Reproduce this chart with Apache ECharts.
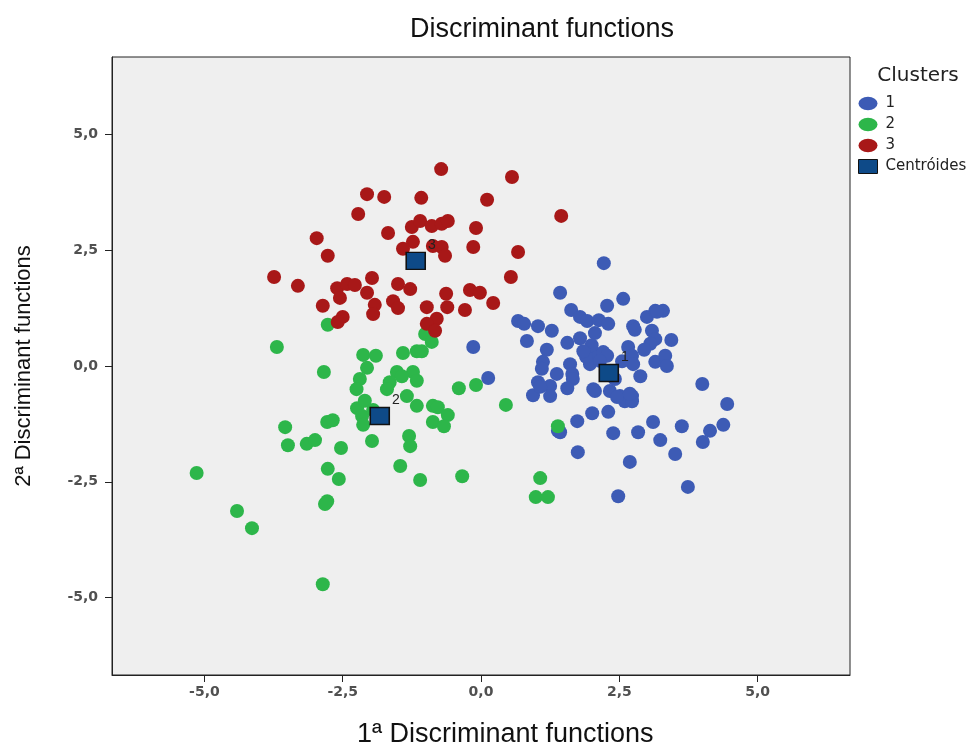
<!DOCTYPE html>
<html>
<head>
<meta charset="utf-8">
<script src="https://cdn.jsdelivr.net/npm/echarts@6/dist/echarts.min.js"></script>
<style>
html,body{margin:0;padding:0;background:#fff;}
#chart{width:971px;height:749px;}
</style>
</head>
<body>
<div id="chart"></div>
<script>
var chartTitle = 'Discriminant functions';
var xAxisName = '1ª Discriminant functions';
var yAxisName = '2ª Discriminant functions';
var legendTitle = 'Clusters';
var seriesNames = ['1', '2', '3', 'Centróides'];
var tickValues = [-5, -2.5, 0, 2.5, 5];
var axisMin = -6.67, axisMax = 6.67;

var cluster1 = [
[2.22,2.22],[1.43,1.58],[2.57,1.45],[2.28,1.30],[1.63,1.21],[1.79,1.06],[1.92,0.97],[2.13,0.99],[2.30,0.91],
[0.67,0.97],[0.78,0.91],[1.03,0.86],[1.28,0.76],[0.83,0.54],[1.56,0.50],[1.79,0.60],[2.06,0.71],[2.75,0.86],
[2.78,0.78],[3.00,1.06],[3.15,1.19],[3.29,1.19],[3.09,0.76],[3.15,0.58],[3.06,0.48],[3.44,0.56],[1.19,0.35],
[2.06,0.26],[2.21,0.30],[2.28,0.22],[1.97,0.04],[2.66,0.41],[2.73,0.22],[2.75,0.04],[2.88,-0.22],[3.15,0.09],
[3.33,0.22],[3.36,0.00],[1.12,0.09],[1.10,-0.06],[1.37,-0.17],[1.61,0.04],[1.65,-0.17],[1.66,-0.28],[1.03,-0.35],
[1.25,-0.43],[0.94,-0.63],[1.25,-0.65],[1.56,-0.48],[2.06,-0.54],[2.33,-0.54],[2.51,-0.65],[2.73,-0.65],[2.60,-0.76],
[2.73,-0.76],[2.42,-0.28],[4.00,-0.39],[4.45,-0.82],[2.01,-1.02],[2.30,-0.99],[1.74,-1.19],[3.11,-1.21],[3.63,-1.30],
[4.38,-1.27],[4.14,-1.40],[2.39,-1.45],[2.84,-1.43],[3.24,-1.60],[4.01,-1.64],[1.75,-1.86],[2.69,-2.07],[3.51,-1.90],
[3.74,-2.61],[2.48,-2.81],[-0.14,0.41],[0.13,-0.26],[1.43,-1.43],[2.15,0.11],[2.46,-0.67],[2.69,-0.60],[2.03,-0.50],
[1.07,-0.45],[3.18,1.17],[1.39,-1.40],[1.90,0.20],[2.00,0.45],[1.85,0.32],[2.55,0.10],[2.95,0.35]
];
var cluster2 = [
[-2.77,0.89],[-3.69,0.41],[-2.13,0.24],[-1.90,0.22],[-1.41,0.28],[-1.16,0.32],[-2.84,-0.13],[-2.06,-0.04],
[-2.19,-0.28],[-1.52,-0.13],[-1.23,-0.13],[-1.65,-0.35],[-1.70,-0.50],[-1.34,-0.65],[-1.16,-0.86],[-2.24,-0.91],
[-2.15,-1.08],[-2.13,-1.27],[-3.54,-1.32],[-2.78,-1.21],[-2.68,-1.17],[-3.49,-1.71],[-3.15,-1.68],[-3.00,-1.60],
[-2.53,-1.77],[-1.97,-1.62],[-1.30,-1.51],[-1.28,-1.73],[-2.77,-2.22],[-2.57,-2.44],[-1.46,-2.16],[-5.14,-2.31],
[-2.78,-2.92],[-2.82,-2.98],[-4.41,-3.13],[-4.14,-3.50],[-2.86,-4.71],[-1.10,-2.46],[-1.01,0.69],[-0.89,0.52],
[-1.07,0.32],[-1.43,-0.22],[-0.40,-0.48],[-0.09,-0.41],[0.45,-0.84],[-0.87,-0.86],[-0.78,-0.89],[-0.60,-1.06],
[-0.87,-1.21],[-0.67,-1.30],[-0.34,-2.38],[1.39,-1.30],[1.07,-2.42],[0.99,-2.83],[1.21,-2.83],[-1.16,-0.32],
[-2.10,-0.75],[-1.95,-0.95],[-2.25,-0.50]
];
var cluster3 = [
[-0.72,4.25],[0.56,4.08],[-2.06,3.71],[-1.75,3.65],[-1.08,3.63],[0.11,3.59],[-2.22,3.28],[1.45,3.24],[-2.97,2.76],
[-1.68,2.87],[-1.25,3.00],[-1.10,3.13],[-0.89,3.02],[-0.71,3.07],[-0.60,3.13],[-0.09,2.98],[-1.23,2.68],[-1.41,2.53],
[-0.87,2.59],[-0.71,2.57],[-0.65,2.38],[-0.14,2.57],[0.67,2.46],[-2.77,2.38],[0.54,1.92],[-3.74,1.92],[-3.31,1.73],
[-1.97,1.90],[-2.60,1.68],[-2.42,1.77],[-2.28,1.75],[-2.55,1.47],[-2.06,1.58],[-1.92,1.32],[-1.95,1.12],[-2.86,1.30],
[-1.50,1.77],[-1.28,1.66],[-1.59,1.40],[-1.50,1.25],[-0.98,1.27],[-0.63,1.56],[-0.20,1.64],[-0.02,1.58],[0.22,1.36],
[-0.61,1.27],[-0.29,1.21],[-2.50,1.06],[-2.59,0.95],[-0.80,1.02],[-0.98,0.91],[-0.83,0.76]
];
var centroids = [[2.31,-0.15,'1'],[-1.83,-1.08,'2'],[-1.18,2.27,'3']];

var colors = ['#3d5bb5', '#2db64a', '#a81818', '#0e4a88'];
var fmt = function (v) { return v.toFixed(1).replace('.', ','); };
var ellipse = 'path://M0,7 A10,7 0 1,1 20,7 A10,7 0 1,1 0,7 Z';
var sans = '"Liberation Sans", Arial, sans-serif';
var wide = '"DejaVu Sans", Verdana, sans-serif';

var chart = echarts.init(document.getElementById('chart'), null, {renderer: 'canvas'});
chart.setOption({
  animation: false,
  backgroundColor: '#ffffff',
  textStyle: {fontFamily: sans},
  title: [
    {text: chartTitle, left: 537, top: 11, textAlign: 'center',
     textStyle: {fontSize: 27, fontWeight: 'normal', color: '#111', fontFamily: sans}},
    {text: legendTitle, left: 913, top: 61, textAlign: 'center',
     textStyle: {fontSize: 20, fontWeight: 'normal', color: '#222', fontFamily: wide}}
  ],
  graphic: [
    {type: 'text', left: 357, top: 721, style: {text: xAxisName, fill: '#111', font: '27px "Liberation Sans", Arial, sans-serif'}}
  ],
  legend: {
    orient: 'vertical', left: 853, top: 91, itemGap: 6, itemWidth: 19, itemHeight: 14,
    textStyle: {fontSize: 15, color: '#222', fontFamily: wide, padding: [0,0,0,3]},
    data: [
      {name: seriesNames[0], icon: ellipse},
      {name: seriesNames[1], icon: ellipse},
      {name: seriesNames[2], icon: ellipse},
      {name: seriesNames[3], icon: 'rect', itemStyle: {borderColor: '#111', borderWidth: 1}}
    ]
  },
  grid: {left: 112, top: 57, width: 738, height: 618, show: true, backgroundColor: '#efefef', borderColor: '#222', borderWidth: 1},
  xAxis: {
    type: 'value', min: axisMin, max: axisMax,
    axisLine: {show: true, onZero: false, lineStyle: {color: '#222'}},
    axisTick: {show: true, length: 7, customValues: tickValues, lineStyle: {color: '#222'}},
    axisLabel: {customValues: tickValues, formatter: fmt, fontSize: 14, fontWeight: 'bold', fontFamily: wide, color: '#505050', margin: 10},
    splitLine: {show: false}
  },
  yAxis: {
    type: 'value', min: axisMin, max: axisMax,
    name: yAxisName, nameLocation: 'middle', nameGap: 77, nameRotate: 90,
    nameTextStyle: {fontSize: 22, color: '#111', fontFamily: sans},
    axisLine: {show: true, onZero: false, lineStyle: {color: '#222'}},
    axisTick: {show: true, length: 7, customValues: tickValues, lineStyle: {color: '#222'}},
    axisLabel: {customValues: tickValues, formatter: fmt, fontSize: 14, fontWeight: 'bold', fontFamily: wide, color: '#505050', margin: 14},
    splitLine: {show: false}
  },
  series: [
    {name: seriesNames[0], type: 'scatter', data: cluster1, symbol: 'circle', symbolSize: 14, itemStyle: {color: colors[0], opacity: 1}},
    {name: seriesNames[1], type: 'scatter', data: cluster2, symbol: 'circle', symbolSize: 14, itemStyle: {color: colors[1], opacity: 1}},
    {name: seriesNames[2], type: 'scatter', data: cluster3, symbol: 'circle', symbolSize: 14, itemStyle: {color: colors[2], opacity: 1}},
    {name: seriesNames[3], type: 'scatter', data: centroids, symbol: 'rect', symbolSize: [19, 17], z: 5,
     itemStyle: {color: colors[3], borderColor: '#111', borderWidth: 1.5, opacity: 1},
     label: {show: true, position: 'right', offset: [-3, -16], formatter: function (p) { return p.value[2]; },
             fontSize: 14, color: '#222'}}
  ]
});
</script>
</body>
</html>
